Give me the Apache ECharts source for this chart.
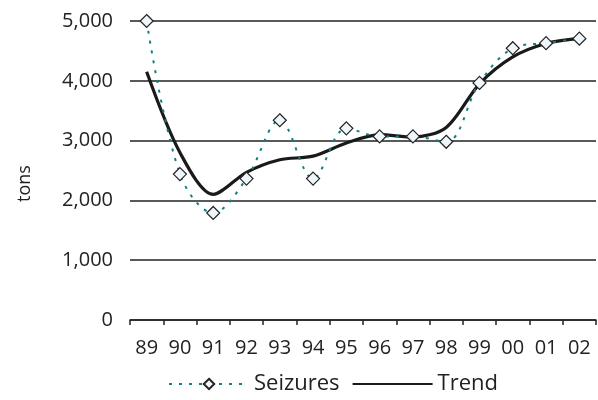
<!DOCTYPE html>
<html>
<head>
<meta charset="utf-8">
<script src="https://cdn.jsdelivr.net/npm/echarts@6/dist/echarts.min.js"></script>
<style>
  html, body { margin: 0; padding: 0; background: #fff; }
  #main { width: 598px; height: 400px; }
</style>
</head>
<body>
<div id="main"></div>
<script>
var years = ['89', '90', '91', '92', '93', '94', '95', '96', '97', '98', '99', '00', '01', '02'];
var seizures = [5000, 2440, 1790, 2365, 3340, 2365, 3205, 3070, 3070, 2980, 3965, 4545, 4630, 4705];
var trend = [4150, 2800, 2100, 2470, 2680, 2740, 2960, 3100, 3060, 3220, 3950, 4400, 4625, 4710];

var chart = echarts.init(document.getElementById('main'));
var option = {
    animation: false,
    textStyle: { fontFamily: 'Open Sans' },
    grid: { left: 130, right: 2, top: 21, bottom: 80 },
    legend: {
        bottom: 0,
        left: 163,
        itemGap: 12,
        itemWidth: 80,
        itemHeight: 13,
        textStyle: { fontSize: 22, color: '#222', fontFamily: 'Open Sans' },
        data: [
            { name: 'Seizures' },
            { name: 'Trend', itemStyle: { color: 'rgba(0,0,0,0)', borderColor: 'rgba(0,0,0,0)' } }
        ]
    },
    xAxis: {
        type: 'category',
        data: years,
        boundaryGap: true,
        axisLine: { lineStyle: { color: '#222', width: 1.5 } },
        axisTick: { show: true, length: 5, lineStyle: { color: '#222', width: 1.5 } },
        axisLabel: { fontSize: 20, color: '#222', margin: 18 }
    },
    yAxis: {
        type: 'value',
        min: 0,
        max: 5000,
        interval: 1000,
        name: 'tons',
        nameLocation: 'middle',
        nameGap: 96,
        nameRotate: 90,
        nameTextStyle: { fontSize: 18, color: '#222', padding: [0, 26, 0, 0] },
        axisLine: { show: false },
        axisTick: { show: false },
        splitLine: { lineStyle: { color: '#222', width: 1.5 } },
        axisLabel: {
            fontSize: 20,
            color: '#222',
            margin: 17,
            formatter: function (v) { return v.toLocaleString('en-US'); }
        }
    },
    series: [{
        name: 'Seizures',
        type: 'line',
        data: seizures,
        smooth: 0.35,
        symbol: 'diamond',
        symbolSize: 13,
        z: 3,
        itemStyle: { color: '#eef6fb', borderColor: '#222', borderWidth: 1.2 },
        lineStyle: { color: '#127f82', width: 2, type: [3, 7] }
    }, {
        name: 'Trend',
        type: 'line',
        data: trend,
        smooth: 0.3,
        symbol: 'none',
        z: 2,
        itemStyle: { color: '#1a1a1a' },
        lineStyle: { color: '#1a1a1a', width: 3.2 }
    }]
};
chart.setOption(option);
</script>
</body>
</html>
